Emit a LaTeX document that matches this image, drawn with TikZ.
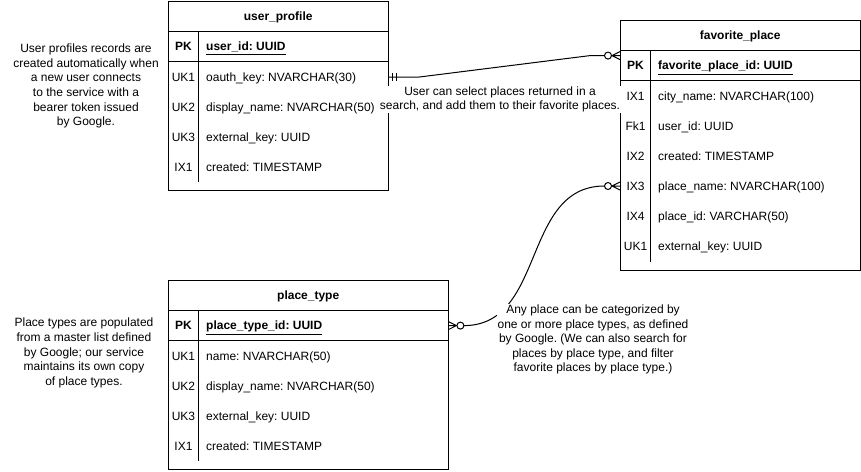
\documentclass[tikz,border=0pt]{standalone}
\usepackage{fontspec}
\setmainfont{Liberation Sans}
\frenchspacing
\newcommand\fs{\fontsize{12}{14.6}\selectfont}
\tikzset{
  ln/.style={line width=1pt, draw=black},
  tblbox/.style={draw, line width=1pt, inner sep=0pt, anchor=north west, fill=white},
  rowbox/.style={inner sep=0pt, anchor=north west, minimum height=30pt},
  keytxt/.style={font=\fs, inner sep=0pt, anchor=center, text height=8.6pt, text depth=0pt},
  fldtxt/.style={font=\fs, inner sep=0pt, anchor=west, text height=8.6pt, text depth=0pt},
  lbl/.style={font=\fs, align=center, inner sep=1pt},
}
\newcommand\ertable[8]{%
  \node[tblbox, minimum width=#4pt, minimum height=#5pt] (#1) at (#2,#3) {};
  \node[rowbox, minimum width=#4pt, font=\fs\bfseries, text height=8.6pt, text depth=0pt] (#1-title) at (#2,#3) {#6};
  \node[rowbox, minimum width=#4pt] (#1-pk) at (#1-title.south west) {};
  \node[keytxt, font=\fs\bfseries] at ([xshift=15.5pt]#1-pk.west) {PK};
  \node[fldtxt, font=\fs\bfseries] at ([xshift=38pt]#1-pk.west) {\underline{#7}};
  \foreach \k/\f [count=\i] in {#8} {
    \node[rowbox, minimum width=#4pt] (#1-r\i) at ([yshift={-30*(\i-1)}]#1-pk.south west) {};
    \node[keytxt] at ([xshift=15.5pt]#1-r\i.west) {\k};
    \node[fldtxt] at ([xshift=38pt]#1-r\i.west) {\f};
  }
  \draw[ln] (#1-title.south west) -- (#1-title.south east);
  \draw[ln] (#1-pk.south west) -- (#1-pk.south east);
  \draw[ln] ([xshift=30.5pt]#1-title.south west) -- ([xshift=30.5pt,yshift=9pt]#1.south west);
}
\begin{document}
\begin{tikzpicture}[x=1pt, y=-1pt]
\useasboundingbox (0,0) rectangle (861,471);
\fill[white] (0,0) rectangle (861,471);

\ertable{up}{168}{1}{220}{189}{user\_profile}{user\_id: UUID}{UK1/oauth\_key: NVARCHAR(30), UK2/display\_name: NVARCHAR(50), UK3/external\_key: UUID, IX1/created: TIMESTAMP}
\ertable{fp}{620}{20}{240}{250}{favorite\_place}{favorite\_place\_id: UUID}{IX1/city\_name: NVARCHAR(100), Fk1/user\_id: UUID, IX2/created: TIMESTAMP, IX3/place\_name: NVARCHAR(100), IX4/place\_id: VARCHAR(50), UK1/external\_key: UUID}
\ertable{pt}{168}{280}{280}{189}{place\_type}{place\_type\_id: UUID}{UK1/name: NVARCHAR(50), UK2/display\_name: NVARCHAR(50), UK3/external\_key: UUID, IX1/created: TIMESTAMP}

% connector user_profile -> favorite_place
\coordinate (e1) at ([yshift=10pt]fp-pk.west);
\draw[ln] (up-r1.east) -- ([xshift=31pt]up-r1.east) -- ([xshift=-30pt]e1) -- ([xshift=-15.5pt]e1);
\draw[ln] ([xshift=4pt,yshift=4pt]up-r1.east) -- ([xshift=4pt,yshift=-4pt]up-r1.east);
\draw[ln] ([xshift=8pt,yshift=4pt]up-r1.east) -- ([xshift=8pt,yshift=-4pt]up-r1.east);
\draw[ln, fill=white] ([xshift=-12pt]e1) circle (3.5pt);
\draw[ln] ([yshift=4pt]e1) -- ([xshift=-8pt]e1) -- ([yshift=-4pt]e1) ([xshift=-8pt]e1) -- (e1);

% connector place_type -> favorite_place
\draw[ln] ([xshift=15.5pt]pt-pk.east) .. controls +(82,0) and +(-83,0) .. ([xshift=-15.5pt]fp-r4.west);
\draw[ln] ([yshift=4pt]pt-pk.east) -- ([xshift=8pt]pt-pk.east) -- ([yshift=-4pt]pt-pk.east) (pt-pk.east) -- ([xshift=8pt]pt-pk.east);
\draw[ln, fill=white] ([xshift=12pt]pt-pk.east) circle (3.5pt);
\draw[ln] ([yshift=4pt]fp-r4.west) -- ([xshift=-8pt]fp-r4.west) -- ([yshift=-4pt]fp-r4.west) ([xshift=-8pt]fp-r4.west) -- (fp-r4.west);
\draw[ln, fill=white] ([xshift=-12pt]fp-r4.west) circle (3.5pt);

% notes and labels
\node[lbl] (n1) at (86,86) {User profiles records are\\created automatically when\\a new user connects\\to the service with a\\bearer token issued\\by Google.};
\node[lbl] (n2) at (84,353) {Place types are populated\\from a master list defined\\by Google; our service\\maintains its own copy\\of place types.};
\node[lbl, fill=white] (l1) at (500,99.5) {User can select places returned in a\\search, and add them to their favorite places.};
\node[lbl, fill=white] (l2) at (593,339.5) {Any place can be categorized by\\one or more place types, as defined\\by Google. (We can also search for\\places by place type, and filter\\favorite places by place type.)};
\end{tikzpicture}
\end{document}
